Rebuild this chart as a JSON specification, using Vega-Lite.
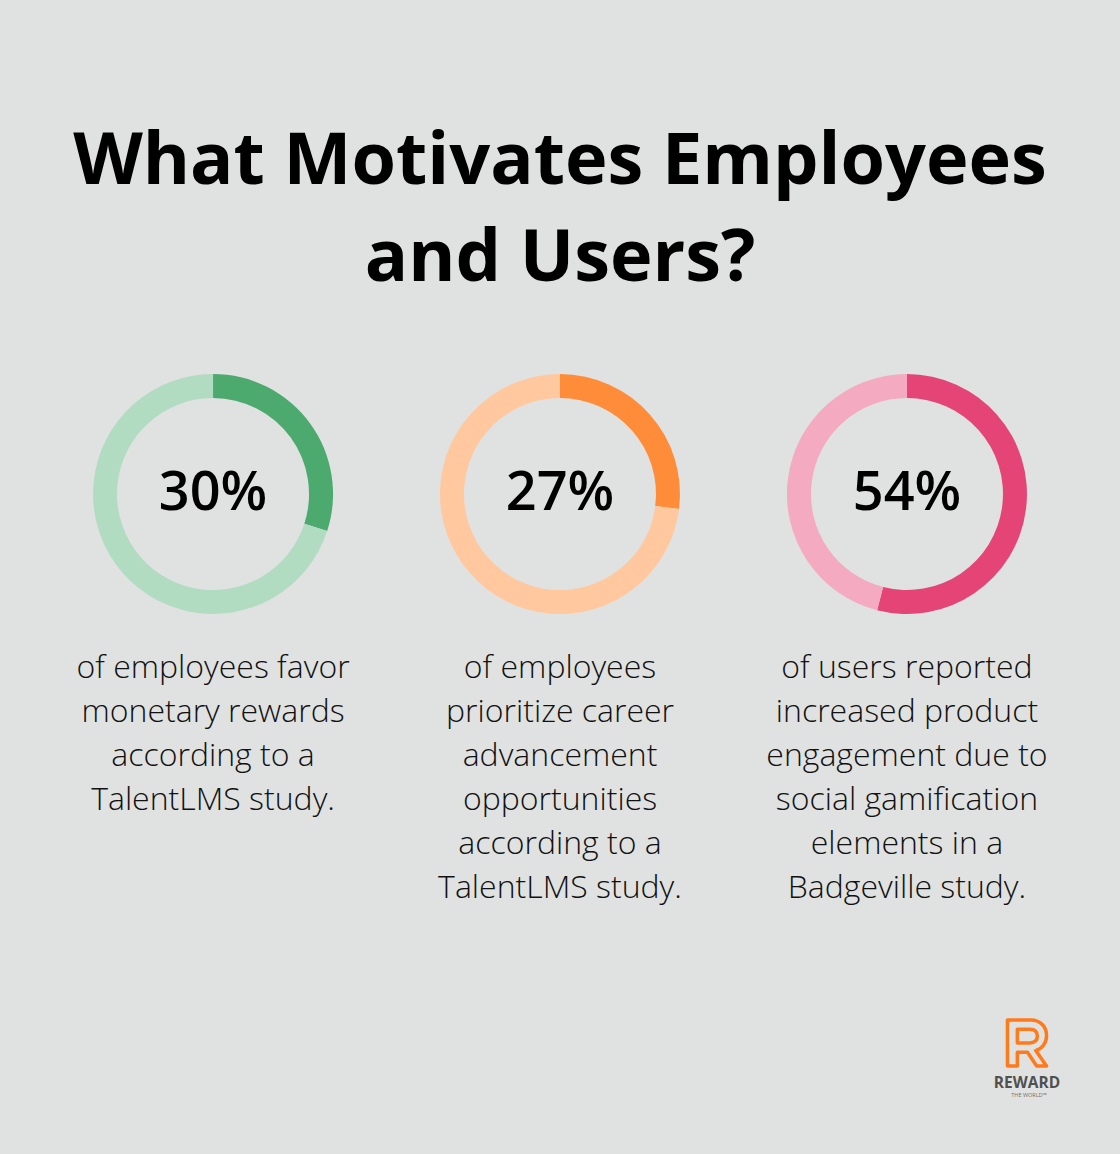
{
  "$schema": "https://vega.github.io/schema/vega-lite/v6.json",
  "autosize": {"type": "none"},
  "width": 1120,
  "height": 328,
  "padding": {"top": 330, "left": 0, "right": 0, "bottom": 496},
  "background": "#e0e2e1",
  "title": {
    "text": ["What Motivates Employees", "and Users?"],
    "font": "Open Sans",
    "fontSize": 72,
    "fontWeight": 700,
    "lineHeight": 97,
    "color": "#000000",
    "anchor": "middle",
    "offset": 34
  },
  "config": {"view": {"stroke": null}},
  "datasets": {
    "segments": [
      {"metric": "A", "seg": "A-value", "start": 0, "end": 30},
      {"metric": "A", "seg": "A-rest", "start": 30, "end": 100},
      {"metric": "B", "seg": "B-value", "start": 0, "end": 27},
      {"metric": "B", "seg": "B-rest", "start": 27, "end": 100},
      {"metric": "C", "seg": "C-value", "start": 0, "end": 54},
      {"metric": "C", "seg": "C-rest", "start": 54, "end": 100}
    ],
    "stats": [
      {"metric": "A", "label": "30%", "desc": "of employees favor\nmonetary rewards\naccording to a\nTalentLMS study."},
      {"metric": "B", "label": "27%", "desc": "of employees\nprioritize career\nadvancement\nopportunities\naccording to a\nTalentLMS study."},
      {"metric": "C", "label": "54%", "desc": "of users reported\nincreased product\nengagement due to\nsocial gamification\nelements in a\nBadgeville study."}
    ],
    "logo": [{"name": "REWARD", "tag": "THE WORLD™"}]
  },
  "layer": [
    {
      "data": {"name": "segments"},
      "mark": {"type": "arc", "radius": 120, "radius2": 96},
      "encoding": {
        "x": {"field": "metric", "type": "nominal", "scale": {"type": "point", "padding": 0.614, "domain": ["A", "B", "C"]}, "axis": null},
        "theta": {"field": "start", "type": "quantitative", "scale": {"type": "linear", "domain": [0, 100], "range": [0, 6.283185307179586], "zero": false}},
        "theta2": {"field": "end"},
        "color": {
          "field": "seg", "type": "nominal", "legend": null,
          "scale": {
            "domain": ["A-value", "A-rest", "B-value", "B-rest", "C-value", "C-rest"],
            "range": ["#4caa6e", "#b2dcc2", "#ff8c38", "#ffc89f", "#e54477", "#f4aac1"]
          }
        }
      }
    },
    {
      "data": {"name": "stats"},
      "mark": {"type": "text", "font": "Open Sans", "fontSize": 54, "fontWeight": 600, "color": "#000000", "baseline": "middle", "align": "center"},
      "encoding": {
        "x": {"field": "metric", "type": "nominal"},
        "text": {"field": "label"}
      }
    },
    {
      "data": {"name": "stats"},
      "mark": {"type": "text", "font": "Open Sans", "fontSize": 32, "fontWeight": 300, "color": "#111111", "baseline": "alphabetic", "align": "center", "lineBreak": "\n", "lineHeight": 44, "dy": 184},
      "encoding": {
        "x": {"field": "metric", "type": "nominal"},
        "text": {"field": "desc"}
      }
    },
    {
      "data": {"name": "logo"},
      "mark": {
        "type": "point",
        "shape": "M -0.85 1 L -0.85 -1 L 0.15 -1 C 0.65 -1 0.85 -0.65 0.85 -0.32 C 0.85 0 0.65 0.25 0.38 0.33 L 0.85 1 L 0.42 1 L 0.02 0.4 L -0.42 0.4 L -0.42 1 Z M -0.42 -0.6 L 0.12 -0.6 C 0.36 -0.6 0.45 -0.46 0.45 -0.3 C 0.45 -0.12 0.34 0 0.12 0 L -0.42 0 Z",
        "size": 2116,
        "filled": false,
        "stroke": "#ff7a1a",
        "strokeWidth": 3.5,
        "strokeJoin": "round",
        "opacity": 1,
        "xOffset": 467,
        "yOffset": 549
      },
      "encoding": {}
    },
    {
      "data": {"name": "logo"},
      "mark": {"type": "text", "font": "Open Sans", "fontSize": 15.5, "fontWeight": 700, "color": "#505050", "baseline": "alphabetic", "align": "center", "dx": 467, "dy": 594},
      "encoding": {"text": {"field": "name"}}
    },
    {
      "data": {"name": "logo"},
      "mark": {"type": "text", "font": "Open Sans", "fontSize": 5.5, "fontWeight": 400, "color": "#707070", "baseline": "alphabetic", "align": "center", "letterSpacing": 5, "dx": 469, "dy": 603},
      "encoding": {"text": {"field": "tag"}}
    }
  ]
}
